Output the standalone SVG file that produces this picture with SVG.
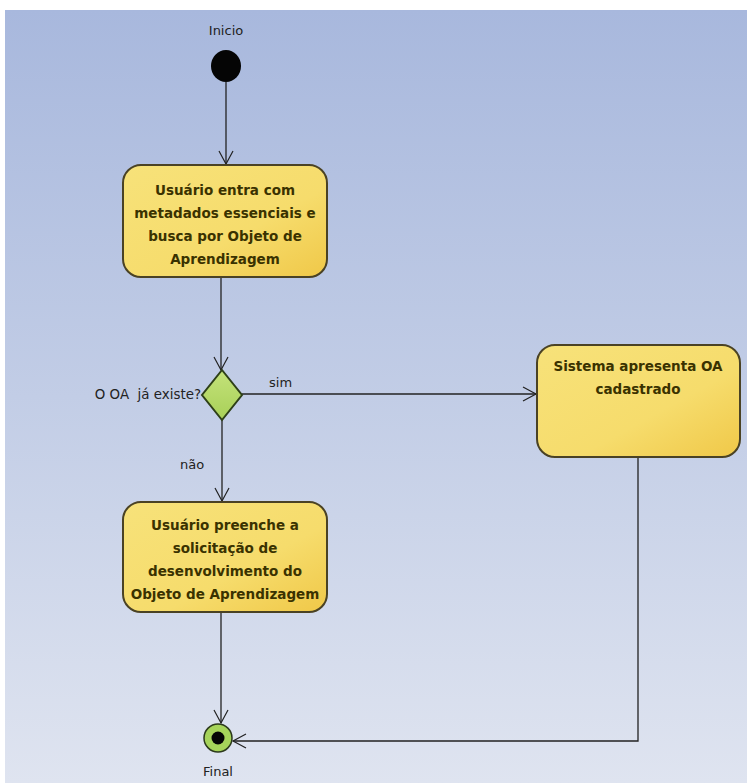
<svg xmlns="http://www.w3.org/2000/svg" width="747" height="783" viewBox="0 0 747 783">
<defs>
<linearGradient id="bg" x1="0" y1="0" x2="0" y2="1">
<stop offset="0" stop-color="#a8b8dd"/>
<stop offset="0.5" stop-color="#c2cde6"/>
<stop offset="1" stop-color="#dfe4f0"/>
</linearGradient>
<linearGradient id="act" x1="0" y1="0" x2="1" y2="1">
<stop offset="0" stop-color="#f7e27a"/>
<stop offset="0.6" stop-color="#f6dc6c"/>
<stop offset="1" stop-color="#f0c848"/>
</linearGradient>
<linearGradient id="dia" x1="0" y1="0" x2="0" y2="1">
<stop offset="0" stop-color="#c4e27a"/>
<stop offset="1" stop-color="#a8d058"/>
</linearGradient>
<marker id="arr" markerWidth="16" markerHeight="16" refX="14" refY="8" orient="auto" markerUnits="userSpaceOnUse">
<path d="M1,1 L14,8 L1,15" fill="none" stroke="#222" stroke-width="1.2"/>
</marker>
<style>
.act{fill:url(#act);stroke:#4a4224;stroke-width:2}
.t{font-family:"DejaVu Sans",Verdana,sans-serif;font-weight:bold;font-size:13.5px;fill:#3a3200;text-anchor:middle}
.l{font-family:"DejaVu Sans",Verdana,sans-serif;font-size:13px;fill:#222;white-space:pre}
.c{fill:none;stroke:#222;stroke-width:1.3}
</style>
</defs>
<rect width="747" height="783" fill="#ffffff"/>
<rect x="5" y="10" width="742" height="773" fill="url(#bg)"/>

<g id="connectors">
<line class="c" x1="226" y1="82" x2="226" y2="164" marker-end="url(#arr)"/>
<line class="c" x1="221" y1="277" x2="221" y2="370" marker-end="url(#arr)"/>
<line class="c" x1="242" y1="394" x2="536" y2="394" marker-end="url(#arr)"/>
<line class="c" x1="222" y1="420" x2="222" y2="501" marker-end="url(#arr)"/>
<line class="c" x1="221" y1="612" x2="221" y2="723" marker-end="url(#arr)"/>
<polyline class="c" points="638,457 638,741 233,741" marker-end="url(#arr)"/>
</g>

<g id="start">
<ellipse cx="226" cy="66" rx="15" ry="16" fill="#050505"/>
<text class="l" x="226" y="35" text-anchor="middle">Inicio</text>
</g>

<g id="act1">
<rect class="act" x="123" y="165" width="204" height="112" rx="18"/>
<text class="t" x="225" y="195">Usuário entra com</text>
<text class="t" x="225" y="218">metadados essenciais e</text>
<text class="t" x="225" y="241">busca por Objeto de</text>
<text class="t" x="225" y="264">Aprendizagem</text>
</g>

<g id="decision">
<polygon points="222,370 242,395 222,420 202,395" fill="url(#dia)" stroke="#2e4018" stroke-width="2"/>
<text class="l" x="201" y="399" text-anchor="end" xml:space="preserve" style="font-size:13.4px">O OA  já existe?</text>
<text class="l" x="269" y="387">sim</text>
<text class="l" x="180" y="469">não</text>
</g>

<g id="act2">
<rect class="act" x="537" y="345" width="203" height="112" rx="18"/>
<text class="t" x="638" y="371">Sistema apresenta OA</text>
<text class="t" x="638" y="394">cadastrado</text>
</g>

<g id="act3">
<rect class="act" x="123" y="502" width="204" height="110" rx="18"/>
<text class="t" x="225" y="530">Usuário preenche a</text>
<text class="t" x="225" y="553">solicitação de</text>
<text class="t" x="225" y="576">desenvolvimento do</text>
<text class="t" x="225" y="599">Objeto de Aprendizagem</text>
</g>

<g id="final">
<circle cx="218" cy="738" r="14" fill="#a6d45a" stroke="#2c3a1c" stroke-width="1.5"/>
<circle cx="218" cy="738" r="6.5" fill="#050505"/>
<text class="l" x="218" y="776" text-anchor="middle">Final</text>
</g>
</svg>
